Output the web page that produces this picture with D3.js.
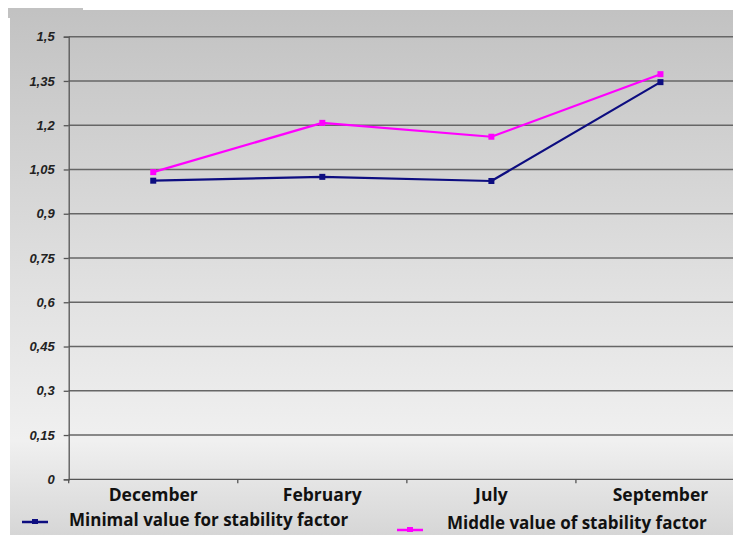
<!DOCTYPE html>
<html>
<head>
<meta charset="utf-8">
<script src="https://cdn.jsdelivr.net/npm/d3@7"></script>
<style>
  html, body { margin: 0; padding: 0; background: #ffffff; }
  svg { display: block; }
</style>
</head>
<body>
<svg id="chart" width="733" height="535"></svg>
<script>
// Stability factor by month
const months = ["December", "February", "July", "September"];
const minimalValues = [1.012, 1.025, 1.011, 1.346];
const middleValues = [1.041, 1.208, 1.161, 1.373];
const yTicks = [0, 0.15, 0.3, 0.45, 0.6, 0.75, 0.9, 1.05, 1.2, 1.35, 1.5];
const seriesNames = ["Minimal value for stability factor", "Middle value of stability factor"];
const seriesColors = ["#0d0d80", "#ff00ff"];

const svg = d3.select("#chart");
const W = 733, H = 535;

// Background panel with soft vertical gradient
const defs = svg.append("defs");
const grad = defs.append("linearGradient")
  .attr("id", "bg").attr("x1", 0).attr("y1", 0).attr("x2", 0).attr("y2", 1);
grad.append("stop").attr("offset", "0%").attr("stop-color", "#c2c2c2");
grad.append("stop").attr("offset", "55%").attr("stop-color", "#e2e2e2");
grad.append("stop").attr("offset", "82%").attr("stop-color", "#f0f0f0");
grad.append("stop").attr("offset", "100%").attr("stop-color", "#d6d6d6");

svg.append("rect").attr("x", 8).attr("y", 8).attr("width", 75).attr("height", 10).attr("fill", "#c2c2c2");
svg.append("rect").attr("x", 10).attr("y", 10).attr("width", W - 10).attr("height", H - 10).attr("fill", "url(#bg)");

const plot = { left: 68.7, top: 36.7, bottom: 479.3, right: 745 };

const x = d3.scaleBand().domain(months).range([plot.left, plot.right]).padding(0);
const y = d3.scaleLinear().domain([0, 1.5]).range([plot.bottom, plot.top]);
const fmt = v => String(+v.toFixed(2)).replace(".", ",");

// Horizontal gridlines
svg.append("g")
  .selectAll("line")
  .data(yTicks.filter(t => t > 0))
  .join("line")
  .attr("x1", plot.left).attr("x2", W)
  .attr("y1", d => y(d)).attr("y2", d => y(d))
  .attr("stroke", "#666666").attr("stroke-width", 1.6);

// Y axis
const yAxis = svg.append("g")
  .attr("transform", `translate(${plot.left},0)`)
  .call(d3.axisLeft(y).tickValues(yTicks).tickFormat(fmt).tickSize(5).tickPadding(9));
yAxis.select(".domain").attr("stroke", "#555555").attr("stroke-width", 1.3);
yAxis.selectAll(".tick line").attr("stroke", "#555555").attr("stroke-width", 1.3);
yAxis.selectAll(".tick text")
  .attr("fill", "#222222")
  .style("font-family", "'Liberation Sans', Arial, sans-serif")
  .style("font-size", "13px")
  .style("font-weight", "bold")
  .style("font-style", "italic");

// X axis
const xAxis = svg.append("g")
  .attr("transform", `translate(0,${plot.bottom})`)
  .call(d3.axisBottom(x).tickSize(0).tickPadding(12));
xAxis.select(".domain").remove();
xAxis.append("line")
  .attr("x1", plot.left).attr("x2", W).attr("y1", 0).attr("y2", 0)
  .attr("stroke", "#555555").attr("stroke-width", 1.3);
xAxis.selectAll(".boundary")
  .data(months)
  .join("line")
  .attr("class", "boundary")
  .attr("x1", d => x(d)).attr("x2", d => x(d))
  .attr("y1", 0).attr("y2", 4)
  .attr("stroke", "#555555").attr("stroke-width", 1.3);
xAxis.selectAll(".tick text")
  .attr("fill", "#111111")
  .attr("dy", "0.55em")
  .style("font-family", "'Open Sans', sans-serif")
  .style("font-size", "17.5px")
  .style("font-weight", "bold");

// Series lines and markers
const series = [minimalValues, middleValues];
const line = d3.line()
  .x((d, i) => x(months[i]) + x.bandwidth() / 2)
  .y(d => y(d));

series.forEach((vals, s) => {
  svg.append("path")
    .datum(vals)
    .attr("d", line)
    .attr("fill", "none")
    .attr("stroke", seriesColors[s])
    .attr("stroke-width", 2.2)
    .attr("stroke-linejoin", "round");
  svg.append("g")
    .selectAll("rect")
    .data(vals)
    .join("rect")
    .attr("x", (d, i) => x(months[i]) + x.bandwidth() / 2 - 3)
    .attr("y", d => y(d) - 3)
    .attr("width", 6).attr("height", 6)
    .attr("fill", seriesColors[s]);
});

// Legend
const legendItems = [
  { sx: 22, sy: 522, tx: 69, ty: 526 },
  { sx: 397, sy: 530, tx: 447, ty: 529 }
];
legendItems.forEach((p, s) => {
  const g = svg.append("g");
  g.append("line")
    .attr("x1", p.sx).attr("x2", p.sx + 26)
    .attr("y1", p.sy).attr("y2", p.sy)
    .attr("stroke", seriesColors[s]).attr("stroke-width", 2.5);
  g.append("rect")
    .attr("x", p.sx + 10).attr("y", p.sy - 3)
    .attr("width", 6).attr("height", 5)
    .attr("fill", seriesColors[s]);
  g.append("text")
    .attr("x", p.tx).attr("y", p.ty)
    .attr("fill", "#111111")
    .style("font-family", "'Open Sans', sans-serif")
    .style("font-size", "17px")
    .style("font-weight", "bold")
    .text(seriesNames[s]);
});
</script>
</body>
</html>
